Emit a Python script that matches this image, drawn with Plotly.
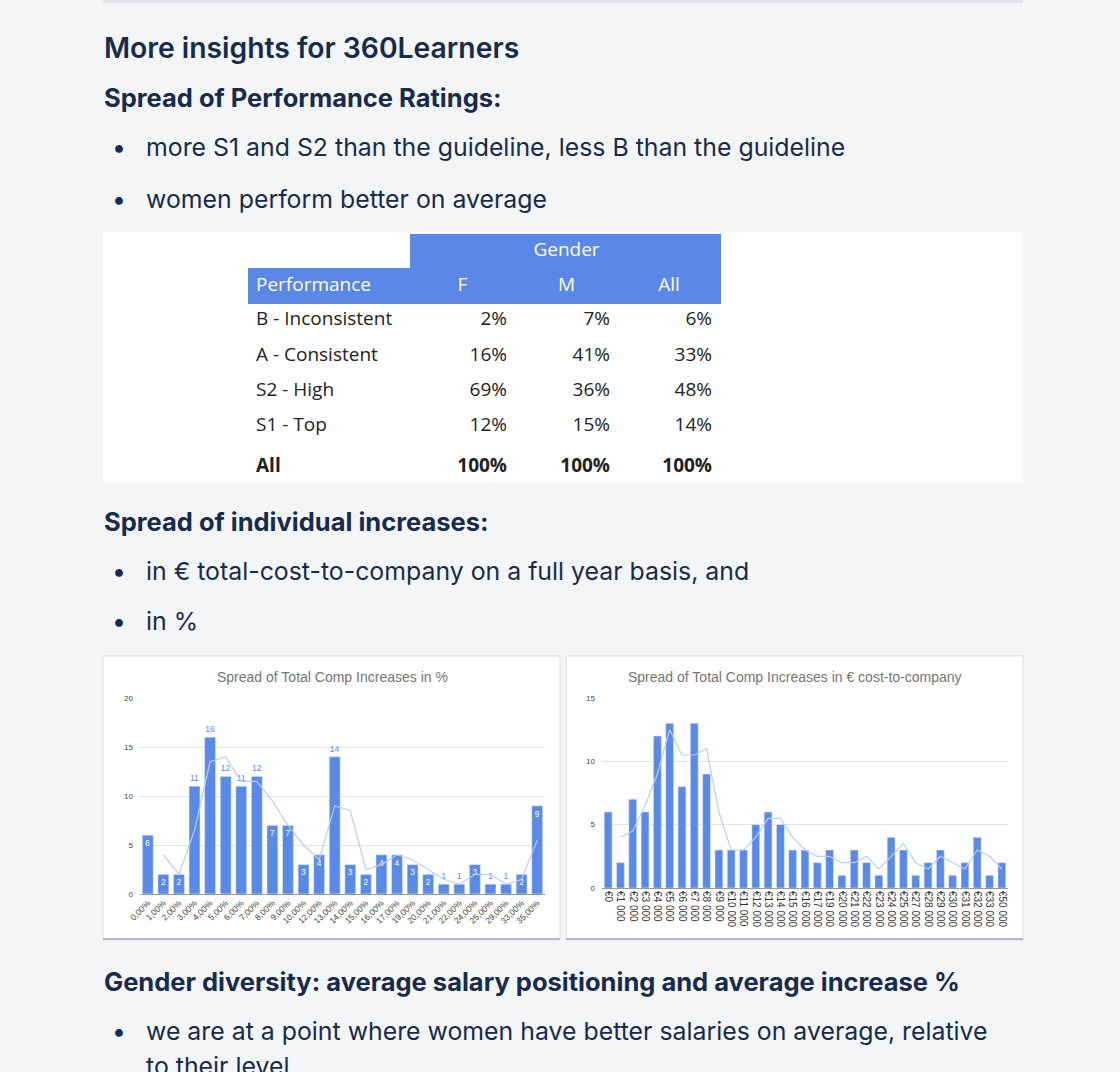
import plotly.graph_objects as go
import pandas as pd

W, H = 1120, 1072


def px(x):
    return x / W


def py(y):
    return 1 - y / H


# ---------------- data ----------------
perf_rows = ["B - Inconsistent", "A - Consistent", "S2 - High", "S1 - Top", "All"]
perf_f = [2, 16, 69, 12, 100]
perf_m = [7, 41, 36, 15, 100]
perf_all = [6, 33, 48, 14, 100]

pct_cats = ["0,00%", "1,00%", "2,00%", "3,00%", "4,00%", "5,00%", "6,00%", "7,00%",
            "8,00%", "9,00%", "10,00%", "12,00%", "13,00%", "14,00%", "15,00%",
            "16,00%", "17,00%", "19,00%", "20,00%", "21,00%", "22,00%", "24,00%",
            "25,00%", "29,00%", "33,00%", "35,00%"]
pct_counts = [6, 2, 2, 11, 16, 12, 11, 12, 7, 7, 3, 4, 14, 3, 2, 4, 4, 3, 2, 1, 1, 3, 1, 1, 2, 9]

eur_cats = ["€0", "€1 000", "€2 000", "€3 000", "€4 000", "€5 000", "€6 000", "€7 000",
            "€8 000", "€9 000", "€10 000", "€11 000", "€12 000", "€13 000", "€14 000",
            "€15 000", "€16 000", "€17 000", "€19 000", "€20 000", "€21 000", "€22 000",
            "€23 000", "€24 000", "€25 000", "€27 000", "€28 000", "€29 000", "€30 000",
            "€31 000", "€32 000", "€33 000", "€50 000"]
eur_counts = [6, 2, 7, 6, 12, 13, 8, 13, 9, 3, 3, 3, 5, 6, 5, 3, 3, 2, 3, 1, 3, 2, 1, 4, 3,
              1, 2, 3, 1, 2, 4, 1, 2]

# ---------------- styles ----------------
BG = "#f4f5f7"
TXT = "#172b4d"
BLUE = "#5b87e6"
BAR = "#5a8ae8"
TREND = "#b9cdf6"
PAGE_FONT = "Inter"
CHART_FONT = "Liberation Sans"
TABLE_FONT = "Open Sans"

fig = go.Figure()

# ---------------- table ----------------
def fmt(row, v):
    s = f"{v}%"
    return f"<b>{s}</b>" if row == "All" else s

fig.add_trace(go.Table(
    domain=dict(x=[px(248), px(720)], y=[py(482), py(234)]),
    columnwidth=[162, 105, 103, 102],
    header=dict(
        values=[["", "Performance"], ["", "F"], ["Gender", "M"], ["", "All"]],
        fill_color=[["white", BLUE], [BLUE, BLUE], [BLUE, BLUE], [BLUE, BLUE]],
        line=dict(width=1, color=[["white", BLUE], [BLUE, BLUE], [BLUE, BLUE], [BLUE, BLUE]]),
        align=["left", "center", "center", "center"],
        font=dict(color="white", size=19, family=TABLE_FONT),
        height=34.5,
    ),
    cells=dict(
        values=[[f"<b>{r}</b>" if r == "All" else r for r in perf_rows],
                [fmt(r, v) for r, v in zip(perf_rows, perf_f)],
                [fmt(r, v) for r, v in zip(perf_rows, perf_m)],
                [fmt(r, v) for r, v in zip(perf_rows, perf_all)]],
        fill_color="white",
        line=dict(width=0, color="white"),
        align=["left", "right", "right", "right"],
        font=dict(color="#222222", size=19, family=TABLE_FONT),
        height=35.3,
    ),
))

# ---------------- bar chart 1 ----------------
pct_pos = ["outside" if (v >= 11 or v == 1) else "inside" for v in pct_counts]
pct_col = [BAR if p == "outside" else "white" for p in pct_pos]
fig.add_trace(go.Bar(
    x=pct_cats, y=pct_counts, marker_color=BAR, text=pct_counts,
    textposition=pct_pos, insidetextanchor="end",
    textfont=dict(size=8.5, color=pct_col, family=CHART_FONT),
    cliponaxis=False, xaxis="x", yaxis="y", showlegend=False,
))
pct_trend = pd.Series(pct_counts).rolling(2).mean()
fig.add_trace(go.Scatter(
    x=pct_cats, y=pct_trend, mode="lines", line=dict(color=TREND, width=1.2),
    xaxis="x", yaxis="y", showlegend=False,
))

# ---------------- bar chart 2 ----------------
fig.add_trace(go.Bar(
    x=eur_cats, y=eur_counts, marker_color=BAR, xaxis="x2", yaxis="y2", showlegend=False,
    width=0.64,
))
eur_trend = pd.Series(eur_counts).rolling(2).mean()
fig.add_trace(go.Scatter(
    x=eur_cats, y=eur_trend, mode="lines", line=dict(color=TREND, width=1.2),
    xaxis="x2", yaxis="y2", showlegend=False,
))

tickfont = dict(size=8, color="#444444", family=CHART_FONT)
fig.update_layout(
    width=W, height=H, margin=dict(l=0, r=0, t=0, b=0, autoexpand=False),
    paper_bgcolor=BG, plot_bgcolor="rgba(0,0,0,0)",
    bargap=0.3,
    xaxis=dict(domain=[px(140), px(545)], tickangle=-45,
               tickfont=dict(size=8.5, color="#444444", family=CHART_FONT),
               showgrid=False, showline=True, linecolor="#999999", linewidth=1,
               ticks="", anchor="y", automargin=False),
    yaxis=dict(domain=[py(894), py(698)], range=[0, 20], tickvals=[0, 5, 10, 15, 20],
               tickfont=tickfont, gridcolor="#e4e4e4", zeroline=False,
               showline=False, ticks="", anchor="x", automargin=False, ticklabelstandoff=6),
    xaxis2=dict(domain=[px(602), px(1008)], tickangle=90,
                tickfont=dict(size=10, color="#333333", family=CHART_FONT),
                showgrid=False, showline=True, linecolor="#999999", linewidth=1,
                ticks="", anchor="y2", automargin=False),
    yaxis2=dict(domain=[py(888), py(698)], range=[0, 15], tickvals=[0, 5, 10, 15],
                tickfont=tickfont, gridcolor="#e4e4e4", zeroline=False,
                showline=False, ticks="", anchor="x2", automargin=False, ticklabelstandoff=6),
)

# ---------------- page decoration ----------------
shapes = [
    dict(type="line", xref="paper", yref="paper", x0=px(103), x1=px(1023), y0=py(1.5), y1=py(1.5),
         line=dict(color="#dcdfe4", width=2.5)),
    dict(type="rect", xref="paper", yref="paper", x0=px(103), x1=px(1023), y0=py(482), y1=py(232),
         fillcolor="white", line=dict(width=0), layer="below"),
    dict(type="rect", xref="paper", yref="paper", x0=px(103), x1=px(560), y0=py(940), y1=py(656),
         fillcolor="white", line=dict(color="#dcdee2", width=1), layer="below"),
    dict(type="rect", xref="paper", yref="paper", x0=px(566), x1=px(1023), y0=py(940), y1=py(656),
         fillcolor="white", line=dict(color="#dcdee2", width=1), layer="below"),
    dict(type="line", xref="paper", yref="paper", x0=px(103), x1=px(560), y0=py(939), y1=py(939),
         line=dict(color="#b8bbc0", width=2)),
    dict(type="line", xref="paper", yref="paper", x0=px(566), x1=px(1023), y0=py(939), y1=py(939),
         line=dict(color="#b8bbc0", width=2)),
]
fig.update_layout(shapes=shapes)

ann = []


def text(x, y, s, size, weight=400, color=TXT, family=PAGE_FONT, xanchor="left"):
    ann.append(dict(xref="paper", yref="paper", x=px(x), y=py(y), text=s, showarrow=False,
                    xanchor=xanchor, yanchor="middle",
                    font=dict(size=size, color=color, family=family, weight=weight)))


BODY = 24.85
SUB = 25.5
text(102, 48, "More insights for 360Learners", 28.3, 600)
text(102, 97, "Spread of Performance Ratings:", SUB, 700)
text(119, 147, "•", BODY, xanchor="center")
text(144, 147, "more S1 and S2 than the guideline, less B than the guideline", BODY)
text(119, 199, "•", BODY, xanchor="center")
text(144, 199, "women perform better on average", BODY)
text(102, 521, "Spread of individual increases:", SUB, 700)
text(119, 571, "•", BODY, xanchor="center")
text(144, 571, "in € total-cost-to-company on a full year basis, and", BODY)
text(119, 621, "•", BODY, xanchor="center")
text(144, 621, "in %", BODY)
text(102, 981, "Gender diversity: average salary positioning and average increase %", SUB, 700)
text(119, 1031, "•", BODY, xanchor="center")
text(144, 1031, "we are at a point where women have better salaries on average, relative", BODY)
text(144, 1066, "to their level", BODY)
text(332, 677, "Spread of Total Comp Increases in %", 14, color="#757575", family=CHART_FONT,
     xanchor="center")
text(795, 677, "Spread of Total Comp Increases in € cost-to-company", 14, color="#757575",
     family=CHART_FONT, xanchor="center")
fig.update_layout(annotations=ann)

fig.write_html("out.html")
